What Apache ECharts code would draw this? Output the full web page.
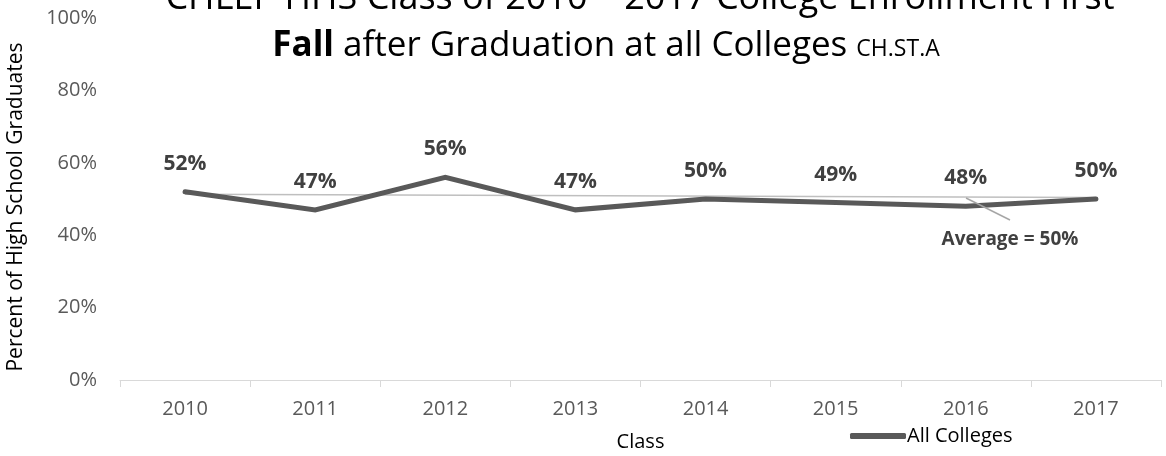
<!DOCTYPE html>
<html><head><meta charset="utf-8">
<script src="https://cdn.jsdelivr.net/npm/echarts@6/dist/echarts.min.js"></script>
<style>html,body{margin:0;padding:0;background:#fff}#c{width:1166px;height:456px}</style>
</head><body><div id="c"></div>
<script>
const categories = ['2010','2011','2012','2013','2014','2015','2016','2017'];
const allColleges = [52, 47, 56, 47, 50, 49, 48, 50];
const averageLine = [[ '2010', 51.3 ], [ '2017', 50.4 ]];
const yTicks = [0, 20, 40, 60, 80, 100];
const FONT = 'Open Sans';

const chart = echarts.init(document.getElementById('c'));
chart.setOption({
  animation: false,
  textStyle: { fontFamily: FONT },
  grid: { left: 120, right: 5, top: 18, bottom: 76, containLabel: false, outerBoundsMode: 'none' },
  legend: {
    data: ['All Colleges'], left: 845, top: 421, itemWidth: 56, itemHeight: 6, itemGap: 4,
    icon: 'roundRect',
    textStyle: { fontFamily: FONT, fontSize: 20, color: '#000', padding: [0,0,0,-4] }
  },
  xAxis: {
    type: 'category', data: categories, boundaryGap: true,
    name: 'Class', nameLocation: 'middle', nameGap: 52,
    nameTextStyle: { fontFamily: FONT, fontSize: 20, color: '#000' },
    axisLine: { lineStyle: { color: '#d9d9d9', width: 1 } },
    axisTick: { show: true, length: 7, lineStyle: { color: '#d9d9d9' } },
    axisLabel: { fontSize: 20, color: '#595959', margin: 19 }
  },
  yAxis: {
    type: 'value', min: 0, max: 100, interval: 20,
    name: 'Percent of High School Graduates', nameLocation: 'middle', nameGap: 93,
    nameTextStyle: { fontFamily: FONT, fontSize: 21, color: '#000', padding: [0, 16, 0, 0] },
    axisLine: { show: false }, axisTick: { show: false }, splitLine: { show: false },
    axisLabel: { fontSize: 20, color: '#595959', margin: 23, formatter: '{value}%' }
  },
  series: [
    {
      name: 'Average', type: 'line', data: averageLine, symbol: 'none', silent: true,
      lineStyle: { color: '#bfbfbf', width: 1.5 }, z: 1
    },
    {
      name: 'All Colleges', type: 'line', data: allColleges,
      symbol: 'circle', symbolSize: 1, showSymbol: true,
      lineStyle: { color: '#595959', width: 5, cap: 'round', join: 'miter' },
      itemStyle: { color: '#595959' },
      label: { show: true, position: 'top', distance: 17, formatter: '{c}%',
        fontFamily: FONT, fontWeight: 'bold', fontSize: 21, color: '#404040' },
      z: 3
    }
  ],
  graphic: [
    { type: 'text', x: 640, y: -1, style: {
      text: 'CHLEP HHS Class of 2010 – 2017 College Enrollment First',
      font: '36px "Open Sans"', fill: '#000', align: 'center', verticalAlign: 'middle' } },
    { type: 'text', x: 606, y: 46, style: {
      rich: {
        b: { fontFamily: FONT, fontSize: 35, fontWeight: 'bold', fill: '#000' },
        n: { fontFamily: FONT, fontSize: 35, fill: '#000' },
        s: { fontFamily: FONT, fontSize: 23, fill: '#000', padding: [6, 0, 0, 0] }
      },
      align: 'center', verticalAlign: 'middle',
      text: '{b|Fall}{n| after Graduation at all Colleges }{s|CH.ST.A}' } },
    { type: 'line', shape: { x1: 966, y1: 198, x2: 1010, y2: 220 },
      style: { stroke: '#a6a6a6', lineWidth: 1.5 }, z: 5 },
    { type: 'text', x: 1010, y: 240, style: {
      text: 'Average = 50%', font: 'bold 19px "Open Sans"', fill: '#404040',
      align: 'center', verticalAlign: 'middle' } }
  ]
});
</script></body></html>
